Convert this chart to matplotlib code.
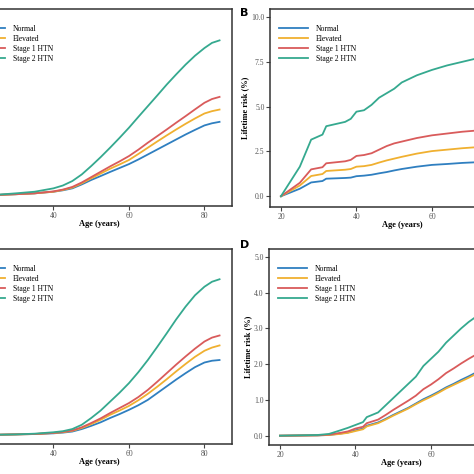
import matplotlib
matplotlib.use("Agg")
import matplotlib.pyplot as plt

# ---- data ----
GROUPS = ["Normal", "Elevated", "Stage 1 HTN", "Stage 2 HTN"]
COLORS = ["#2f7fc0", "#f0b030", "#d95b5b", "#35a98f"]

# Panel A / C: smooth curves
age_ac = [20, 25, 30, 35, 40, 42.5, 45, 47.5, 50, 52.5, 55, 57.5, 60, 62.5, 65, 67.5,
          70, 72.5, 75, 77.5, 80, 82, 84]
a_normal = [0, 0.02, 0.06, 0.11, 0.20, 0.28, 0.39, 0.61, 0.86, 1.08, 1.31, 1.53, 1.75, 2.01,
            2.29, 2.57, 2.85, 3.13, 3.41, 3.67, 3.92, 4.04, 4.12]
a_elevated = [0, 0.02, 0.06, 0.11, 0.20, 0.30, 0.43, 0.67, 0.95, 1.22, 1.49, 1.73, 1.98, 2.32,
              2.67, 3.02, 3.36, 3.69, 4.01, 4.31, 4.59, 4.72, 4.81]
a_stage1 = [0, 0.02, 0.06, 0.11, 0.22, 0.32, 0.47, 0.72, 1.02, 1.32, 1.62, 1.90, 2.20, 2.56,
            2.95, 3.32, 3.69, 4.07, 4.44, 4.82, 5.19, 5.40, 5.52]
a_stage2 = [0, 0.03, 0.11, 0.20, 0.39, 0.55, 0.80, 1.17, 1.64, 2.14, 2.67, 3.22, 3.79, 4.40,
            5.00, 5.60, 6.21, 6.78, 7.33, 7.83, 8.26, 8.55, 8.69]

c_normal = [0, 0, 0.01, 0.02, 0.04, 0.06, 0.09, 0.16, 0.25, 0.35, 0.47, 0.58, 0.70, 0.83,
            0.98, 1.17, 1.36, 1.55, 1.73, 1.90, 2.03, 2.08, 2.10]
c_elevated = [0, 0, 0.01, 0.02, 0.05, 0.07, 0.11, 0.19, 0.30, 0.42, 0.56, 0.68, 0.81, 0.97,
              1.15, 1.35, 1.56, 1.78, 1.99, 2.19, 2.36, 2.45, 2.51]
c_stage1 = [0, 0, 0.01, 0.02, 0.05, 0.08, 0.12, 0.21, 0.33, 0.46, 0.61, 0.75, 0.89, 1.06,
            1.26, 1.49, 1.73, 1.97, 2.20, 2.42, 2.62, 2.73, 2.79]
c_stage2 = [0, 0, 0.01, 0.03, 0.07, 0.10, 0.16, 0.28, 0.47, 0.68, 0.93, 1.18, 1.45, 1.76,
            2.10, 2.47, 2.85, 3.24, 3.60, 3.92, 4.16, 4.30, 4.37]

# Panel B: step-like cumulative risk
age_b = [20, 25, 28, 31, 32, 37, 38.5, 40, 42, 44, 46, 48, 50, 52, 56, 60, 64, 68, 72, 76, 80, 84]
b_normal = [0, 0.42, 0.77, 0.85, 0.98, 1.02, 1.04, 1.12, 1.15, 1.20, 1.28, 1.35, 1.44, 1.52,
            1.65, 1.75, 1.80, 1.86, 1.90, 1.93, 1.95, 1.97]
b_elevated = [0, 0.60, 1.13, 1.24, 1.41, 1.48, 1.52, 1.65, 1.68, 1.75, 1.88, 2.00, 2.10, 2.20,
              2.38, 2.52, 2.60, 2.68, 2.74, 2.79, 2.83, 2.86]
b_stage1 = [0, 0.75, 1.50, 1.62, 1.84, 1.95, 2.03, 2.25, 2.30, 2.40, 2.60, 2.80, 2.95, 3.05,
            3.25, 3.40, 3.50, 3.60, 3.67, 3.72, 3.77, 3.80]
b_stage2 = [0, 1.65, 3.16, 3.44, 3.91, 4.15, 4.32, 4.72, 4.80, 5.10, 5.50, 5.75, 6.00, 6.35,
            6.75, 7.05, 7.30, 7.50, 7.70, 7.85, 8.00, 8.10]

# Panel D
age_d = [20, 30, 33, 36, 38, 40, 42, 43, 46, 48, 50, 52, 54, 56, 58, 60, 62, 64, 66, 68, 70, 72, 76, 80, 84]
d_normal = [0, 0.01, 0.02, 0.06, 0.09, 0.15, 0.20, 0.28, 0.37, 0.47, 0.58, 0.68, 0.78, 0.90,
            1.02, 1.12, 1.23, 1.35, 1.45, 1.56, 1.66, 1.77, 1.97, 2.15, 2.30]
d_elevated = [0, 0.01, 0.02, 0.05, 0.08, 0.13, 0.18, 0.26, 0.35, 0.45, 0.56, 0.66, 0.76, 0.88,
              0.99, 1.09, 1.20, 1.32, 1.42, 1.52, 1.62, 1.73, 1.92, 2.10, 2.25]
d_stage1 = [0, 0.01, 0.03, 0.08, 0.12, 0.20, 0.25, 0.35, 0.45, 0.58, 0.72, 0.85, 0.98, 1.12,
            1.30, 1.43, 1.58, 1.75, 1.88, 2.02, 2.15, 2.27, 2.50, 2.70, 2.90]
d_stage2 = [0, 0.02, 0.05, 0.15, 0.22, 0.30, 0.38, 0.52, 0.65, 0.85, 1.05, 1.25, 1.45, 1.65,
            1.95, 2.15, 2.35, 2.60, 2.80, 3.00, 3.18, 3.33, 3.65, 3.95, 4.20]

plt.rcParams['font.family'] = ['Liberation Serif', 'DejaVu Serif']

W = 474
fig = plt.figure(figsize=(4.74, 4.74), dpi=100)


def px_axes(left, top, right, bottom):
    """Axes from pixel box (origin top-left)."""
    return fig.add_axes([left / W, 1 - bottom / W, (right - left) / W, (bottom - top) / W])


def style(ax, ylim, yticks):
    ax.set_xlim(17.1, 87.3)
    ax.set_ylim(*ylim)
    ax.set_xticks([20, 40, 60, 80])
    ax.set_yticks(yticks)
    ax.set_yticklabels([f"{t:.1f}" for t in yticks])
    for s in ax.spines.values():
        s.set_color('#333333')
        s.set_linewidth(1.1)
    ax.tick_params(direction='out', length=3, width=0.8, pad=1, labelsize=5.5,
                   labelcolor='#555555', color='#444444')
    ax.set_xlabel('Age (years)', fontsize=6, fontweight='bold', labelpad=0.5)
    ax.set_ylabel('Lifetime risk (%)', fontsize=6, fontweight='bold', labelpad=1.5)


def draw(ax, x, series):
    for name, col, y in zip(GROUPS, COLORS, series):
        ax.plot(x, y, color=col, linewidth=1.3, label=name)
    ax.legend(loc='upper left', bbox_to_anchor=(0.035, 0.92), frameon=False,
              fontsize=5.5, handlelength=3.8, handletextpad=1.0, labelspacing=0.26,
              borderpad=0, borderaxespad=0)


axA = px_axes(-33, 9, 232, 206)
draw(axA, age_ac, [a_normal, a_elevated, a_stage1, a_stage2])
style(axA, (-0.6, 10.45), [0, 2.5, 5, 7.5, 10])

axB = px_axes(270, 9, 535, 207)
draw(axB, age_b, [b_normal, b_elevated, b_stage1, b_stage2])
style(axB, (-0.6, 10.45), [0, 2.5, 5, 7.5, 10])

axC = px_axes(-33, 249, 232, 444)
draw(axC, age_ac, [c_normal, c_elevated, c_stage1, c_stage2])
style(axC, (-0.26, 5.22), [0, 1, 2, 3, 4, 5])

axD = px_axes(269, 249, 534, 445)
draw(axD, age_d, [d_normal, d_elevated, d_stage1, d_stage2])
style(axD, (-0.26, 5.22), [0, 1, 2, 3, 4, 5])

fig.text(240 / W, 1 - 13 / W, 'B', fontsize=8, fontweight='bold', family='DejaVu Sans',
         va='center', ha='left')
fig.text(240 / W, 1 - 245 / W, 'D', fontsize=8, fontweight='bold', family='DejaVu Sans',
         va='center', ha='left')

fig.savefig('out.png', dpi=100)
